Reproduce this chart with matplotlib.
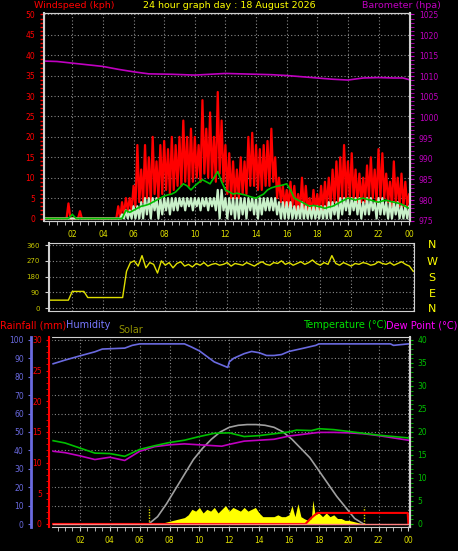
import numpy as np
import matplotlib
matplotlib.use("Agg")
import matplotlib.pyplot as plt
from matplotlib.ticker import MultipleLocator

# ---------------- data ----------------
hours_ticks = [2, 4, 6, 8, 10, 12, 14, 16, 18, 20, 22, 24]
hour_labels = ["02", "04", "06", "08", "10", "12", "14", "16", "18", "20", "22", "00"]

baro_t = [0.15, 1, 2, 3, 4, 5, 6, 7, 8.5, 10, 11, 12, 13, 14, 15, 16, 17, 18, 19, 19.5, 20, 21, 22, 23, 23.6, 24]
baro_v = [1013.7, 1013.6, 1013.2, 1012.8, 1012.4, 1011.7, 1011.1, 1010.6, 1010.5, 1010.3, 1010.5, 1010.7, 1010.6, 1010.5, 1010.4, 1010.2, 1009.9, 1009.6, 1009.3, 1009.2, 1009.1, 1009.6, 1009.7, 1009.6, 1009.6, 1009.2]

# gust (0.25 h steps from 00:00) – alternating high/low readings
gust_hi = [0, 0, 0, 0, 0, 0, 0, 3.7, 0, 0, 1.8, 0, 0, 0, 0, 0, 0, 0, 0, 0,
           3, 4, 5, 5, 8, 18, 12, 18, 15, 20, 14, 18, 19, 17, 20, 18, 20, 24, 20, 22,
           20, 18, 29, 22, 26, 20, 31, 24, 18, 16, 14, 12, 15, 14, 20, 21, 18, 17, 18, 19,
           22, 15, 10, 8, 7, 9, 8, 6, 10, 8, 5, 7, 6, 8, 9, 10, 12, 14, 15, 18,
           14, 16, 12, 11, 10, 13, 15, 12, 17, 16, 11, 9, 14, 10, 11, 9, 6]
gust_lo = [0, 0, 0, 0, 0, 0, 0, 0, 0, 0, 0, 0, 0, 0, 0, 0, 0, 0, 0, 0,
           0, 1, 2, 2, 3, 4, 4, 5, 4, 6, 5, 6, 7, 6, 7, 8, 8, 9, 8, 9,
           10, 9, 11, 10, 10, 9, 11, 9, 6, 5, 5, 5, 6, 6, 8, 8, 7, 7, 8, 8,
           9, 5, 4, 3, 3, 3, 2, 2, 2, 2, 1, 2, 2, 2, 3, 3, 4, 4, 5, 5,
           5, 5, 4, 4, 4, 5, 5, 4, 5, 5, 4, 3, 4, 3, 3, 3, 3]
avg_v = [0, 0, 0, 0, 0, 0, 0, 0, 1, 0, 0, 0, 0, 0, 0, 0, 0, 0, 0, 0,
         0, 0, 2, 1.5, 2, 2.5, 3, 3.2, 3.5, 4, 4.5, 5, 5.5, 5.8, 6, 6.5, 7.5, 8.5, 8, 7,
         8, 8.8, 9.5, 9, 8.5, 10, 11.5, 9, 7, 6.5, 6, 6.2, 6, 5.8, 5.5, 5.2, 5, 5.5, 6, 7,
         7.5, 7.8, 8, 8.2, 8.5, 7, 5, 4.5, 4, 3.5, 3, 3.2, 3, 2.8, 2.5, 2.8, 3, 3.5, 4, 4.5,
         5, 4.8, 4.5, 4.8, 5, 4.7, 4.5, 4.2, 4, 4.3, 4.5, 4.2, 4, 3.8, 3.5, 3, 2.5]
lull_hi = [0, 0, 0, 0, 0, 0, 0, 0, 0, 0, 0, 0, 0, 0, 0, 0, 0, 0, 0, 0,
           0, 1, 2, 2, 3, 3, 4, 5, 5, 5, 5, 5, 5, 5, 5, 5, 5, 5, 5, 5,
           5, 5, 5, 5, 5, 5, 7, 7, 5, 5, 5, 5, 5, 5, 5, 5, 5, 5, 5, 5,
           5, 5, 4, 4, 4, 4, 3, 3, 4, 3, 3, 3, 3, 3, 3, 4, 4, 4, 5, 5,
           5, 5, 5, 5, 4, 5, 5, 4, 5, 5, 4, 4, 4, 4, 3, 3, 3]
lull_lo = [0, 0, 0, 0, 0, 0, 0, 0, 0, 0, 0, 0, 0, 0, 0, 0, 0, 0, 0, 0,
           0, 0, 0, 0, 0, 0, 0, 1, 0, 2, 0, 1, 2, 1, 2, 2, 3, 2, 3, 2,
           3, 2, 3, 2, 3, 2, 0, 2, 0, 1, 0, 0, 1, 0, 2, 1, 0, 1, 2, 2,
           2, 1, 0, 0, 0, 0, 0, 0, 0, 0, 0, 0, 0, 0, 0, 0, 1, 0, 1, 2,
           1, 2, 1, 0, 1, 1, 2, 0, 1, 1, 0, 0, 1, 0, 0, 0, 0]

dir_v = [45, 45, 45, 45, 45, 45, 45, 45, 95, 95, 95, 95, 60, 60, 60, 60, 60, 60, 60, 60,
         60, 60, 210, 260,
         270, 240, 300, 230, 260, 250, 200, 270, 245, 260, 230, 255, 265, 240, 250, 235,
         255, 245, 260, 240, 250, 255, 245, 250, 260, 240, 255, 250, 245, 260, 250, 240,
         255, 265, 250, 245, 260, 255, 270, 250, 260, 245, 255, 265, 250, 260, 275, 255,
         245, 260, 250, 300, 255, 245, 260, 250, 240, 255, 250, 260, 255, 245, 250, 265,
         255, 250, 260, 245, 255, 265, 250, 240, 210]

temp_t = [0.2, 1, 2, 3, 4, 5, 6, 7, 8, 9, 10, 11, 12, 13, 14, 15, 16, 16.5, 17.5, 18, 19, 20, 21, 22, 23, 24]
temp_v = [18.1, 17.6, 16.5, 15.4, 15.3, 14.7, 16.2, 17.0, 17.7, 18.2, 19.0, 19.7, 19.8, 19.0, 19.2, 19.6, 20.0, 20.4, 20.3, 20.7, 20.5, 20.1, 19.7, 19.3, 19.0, 18.7]
dew_t = [0.2, 1, 2, 3, 4, 5, 6, 7, 8, 9, 10, 11, 11.5, 12, 13, 14, 15, 16, 17, 18, 19, 20, 21, 22, 23, 24]
dew_v = [15.8, 15.5, 14.8, 14.0, 14.5, 13.8, 15.8, 16.8, 17.2, 17.4, 17.2, 17.0, 16.9, 17.3, 18.0, 18.2, 18.4, 19.1, 19.5, 19.9, 19.9, 19.8, 19.6, 19.2, 18.7, 18.2]
hum_t = [0.2, 1, 2, 3, 3.5, 5, 5.5, 6, 9, 9.5, 10, 11, 11.9, 12.0, 12.3, 13, 13.5, 14, 14.5, 15, 15.5, 16, 17, 17.8, 18, 22.8, 23, 24]
hum_v = [87, 89, 91.3, 93.5, 95, 95.5, 97, 97.8, 97.8, 96, 94, 88, 85, 88, 90, 92.5, 93.7, 93, 91.5, 91.5, 92, 93.7, 95.5, 97, 97.8, 97.8, 97, 97.8]
solar_t = [6.6, 7.2, 7.8, 8.4, 9.0, 9.6, 10.2, 10.8, 11.4, 12.0, 12.6, 13.2, 13.8, 14.4, 15.0, 15.6, 16.2, 16.8, 17.4, 18.0, 18.6, 19.2, 19.8, 20.4, 21.0]
solar_max = [0, 4, 11, 19, 27, 35, 41, 46, 50, 52.5, 53.6, 54, 54, 53.6, 52.5, 50, 46, 41, 36, 29, 22, 15, 9, 3, 0]
sol_t = [7.5, 7.75, 8.0, 8.25, 8.5, 8.75, 9.0, 9.25, 9.5, 9.75, 10.0, 10.25, 10.5, 10.75, 11.0, 11.25, 11.5, 11.75, 12.0, 12.25, 12.5, 12.75, 13.0, 13.25, 13.5, 13.75, 14.0, 14.25, 14.5, 14.75, 15.0, 15.25, 15.5, 15.75, 16.0, 16.2, 16.4, 16.6, 16.8, 17.0, 17.25, 17.5, 17.6, 17.75, 18.0, 18.25, 18.5, 18.75, 19.0, 19.25, 19.5, 19.75, 20.0, 20.25, 20.5, 20.75, 21.0]
sol_v = [0.5, 1, 1.5, 2, 2.5, 3, 3.5, 5, 8, 7, 9, 6, 8, 7, 9, 6, 8, 10, 7, 9, 8, 7, 9, 7, 8, 9, 6, 4, 4, 4, 4, 5, 4, 4, 5, 10, 4, 11, 4, 3, 2, 3, 13, 5, 6, 4, 6, 4, 5, 3, 3, 2, 2, 1.5, 1, 0.5, 0]
rain_t = [0.2, 17.1, 17.5, 17.9, 23.95, 24.0]
rain_v = [0, 0, 1.0, 1.8, 1.8, 0]

# ---------------- figure ----------------
BG = "black"
fig = plt.figure(figsize=(4.58, 5.51), dpi=100, facecolor=BG)
GRID = dict(color="#8a8a8a", linestyle=(0, (1, 2)), linewidth=0.8)
XLAB = "#e0e000"
fs = 5.5


def zigzag(hi, lo):
    hi = np.asarray(hi, float); lo = np.asarray(lo, float)
    t = np.arange(len(hi)) * 0.25
    tt = np.empty(2 * len(hi)); vv = np.empty(2 * len(hi))
    tt[0::2] = t; tt[1::2] = t + 0.125
    vv[0::2] = hi; vv[1::2] = lo
    return tt, vv


def style(ax):
    ax.set_facecolor(BG)
    for s in ax.spines.values():
        s.set_color("#d0d0d0")
    ax.grid(True, **GRID)
    ax.set_axisbelow(True)

# --- top: wind + barometer ---
ax1 = fig.add_axes([0.096, 0.599, 0.799, 0.377])
style(ax1)
ax1.set_xlim(0.15, 24.05)
ax1.set_ylim(-0.6, 50.3)
tt, vv = zigzag(gust_hi, gust_lo)
ax1.plot(tt, vv, color="#ff0000", lw=1.6)
tt, vv = zigzag(lull_hi, lull_lo)
ax1.plot(tt, vv, color="#c8f0c8", lw=1.6)
ax1.plot(np.arange(len(avg_v)) * 0.25, avg_v, color="#00c000", lw=1.2)
ax1.set_yticks(range(0, 51, 5))
ax1.yaxis.set_minor_locator(MultipleLocator(1))
ax1.tick_params(axis="y", colors="#ff0000", labelsize=fs, length=3, which="both", width=1)
ax1.set_xticks(hours_ticks)
ax1.set_xticklabels(hour_labels)
ax1.xaxis.set_minor_locator(MultipleLocator(0.5))
ax1.tick_params(axis="x", colors="#d0d0d0", labelcolor=XLAB, labelsize=fs, length=3, which="both")
ax1.spines["left"].set_linewidth(1.5)
ax1b = ax1.twinx()
ax1b.set_ylim(974.94, 1025.3)
ax1b.plot(baro_t, baro_v, color="#c000c0", lw=1.2)
ax1b.set_yticks(range(975, 1026, 5))
ax1b.yaxis.set_minor_locator(MultipleLocator(1))
ax1b.tick_params(axis="y", colors="#c000c0", labelsize=fs, length=3, which="both")
for s in ax1b.spines.values():
    s.set_color("#d0d0d0")
ax1b.spines["right"].set_linewidth(1.5)
fig.text(34 / 458, 1 - 5 / 551, "Windspeed (kph)", color="#ff0000", fontsize=6.8, va="center")
fig.text(0.5, 1 - 5 / 551, "24 hour graph day : 18 August 2026", color="#ffff00", fontsize=6.8, va="center", ha="center")
fig.text(441 / 458, 1 - 5 / 551, "Barometer (hpa)", color="#c000c0", fontsize=6.8, va="center", ha="right")

# --- middle: wind direction ---
ax2 = fig.add_axes([0.107, 0.4356, 0.797, 0.123])
style(ax2)
ax2.set_xlim(0.5, 24.05)
ax2.set_ylim(-17, 371)
ax2.plot(np.arange(len(dir_v)) * 0.25, dir_v, color="#e0e000", lw=1.0)
ax2.set_yticks([0, 90, 180, 270, 360])
ax2.set_xticks(hours_ticks)
ax2.set_xticklabels([])
ax2.tick_params(axis="x", length=0)
ax2.tick_params(axis="y", colors="#d0d0d0", labelcolor="#c8c800", labelsize=fs - 0.5, length=3)
ax2.spines["left"].set_linewidth(1.5)
for lbl, y in zip("NWSEN", [245, 262, 278, 294, 309]):
    fig.text(432 / 458, 1 - y / 551, lbl, color="#ffff00", fontsize=8, ha="center", va="center")

# --- bottom: temp/humidity/rain/solar ---
ax3 = fig.add_axes([0.111, 0.0436, 0.784, 0.345])
style(ax3)
ax3.set_xlim(0.05, 24.1)
ax3.set_ylim(-1.6, 101.6)
ax3.fill_between(sol_t, sol_v, color="#ffff00", lw=0)
ax3.plot(solar_t, solar_max, color="#a0a0a0", lw=1.2)
ax3.vlines([6.6, 21.0], 0, 9, color="#e0e000", linestyles=(0, (1, 1)), lw=1)
ax3.plot(hum_t, hum_v, color="#6a6ae0", lw=1.2)
ax3.set_yticks(range(0, 101, 10))
ax3.yaxis.set_ticks_position("left")
ax3.spines["left"].set_position(("outward", 14))
ax3.spines["left"].set_color("#6a6ae0")
ax3.spines["left"].set_linewidth(2)
ax3.tick_params(axis="y", colors="#6a6ae0", labelsize=fs, length=2)
ax3.set_xticks(hours_ticks)
ax3.set_xticklabels(hour_labels)
ax3.xaxis.set_minor_locator(MultipleLocator(0.5))
ax3.tick_params(axis="x", colors="#d0d0d0", labelcolor=XLAB, labelsize=fs, length=3, which="both")

axr = ax3.twinx()
axr.set_ylim(-0.49, 30.49)
axr.plot(rain_t, rain_v, color="#ff0000", lw=1.5)
axr.axhline(0, xmin=0.005, xmax=0.995, color="#ff8080", lw=1)
axr.yaxis.set_ticks_position("left")
axr.spines["left"].set_visible(True)
axr.spines["left"].set_position(("outward", 1))
axr.spines["left"].set_color("#ff0000")
axr.spines["left"].set_linewidth(1.5)
axr.spines["right"].set_visible(False)
axr.set_yticks(range(0, 31, 5))
axr.yaxis.set_minor_locator(MultipleLocator(1))
axr.tick_params(axis="y", colors="#ff0000", labelsize=fs, length=2, which="both")

axt = ax3.twinx()
axt.set_ylim(-0.65, 40.65)
axt.plot(dew_t, dew_v, color="#c000c0", lw=1.2)
axt.plot(temp_t, temp_v, color="#00c000", lw=1.2)
axt.set_yticks(range(0, 41, 5))
axt.yaxis.set_minor_locator(MultipleLocator(1))
axt.tick_params(axis="y", colors="#00c000", labelsize=fs, length=2, which="both")
axt.spines["right"].set_color("#d0d0d0")
axt.spines["right"].set_linewidth(1.5)
for a in (axr, axt):
    a.spines["top"].set_visible(False)
    a.spines["bottom"].set_visible(False)

fig.text(0 / 458, 1 - 325 / 551, "Rainfall (mm)", color="#ff0000", fontsize=7, va="center")
fig.text(66 / 458, 1 - 325 / 551, "Humidity", color="#7878ff", fontsize=7, va="center")
fig.text(118 / 458, 1 - 330 / 551, "Solar", color="#909000", fontsize=7, va="center")
fig.text(387 / 458, 1 - 325 / 551, "Temperature (°C)", color="#00e000", fontsize=7, va="center", ha="right")
fig.text(457 / 458, 1 - 325 / 551, "Dew Point (°C)", color="#ff00ff", fontsize=7, va="center", ha="right")

fig.savefig("out.png", dpi=100, facecolor=BG)
